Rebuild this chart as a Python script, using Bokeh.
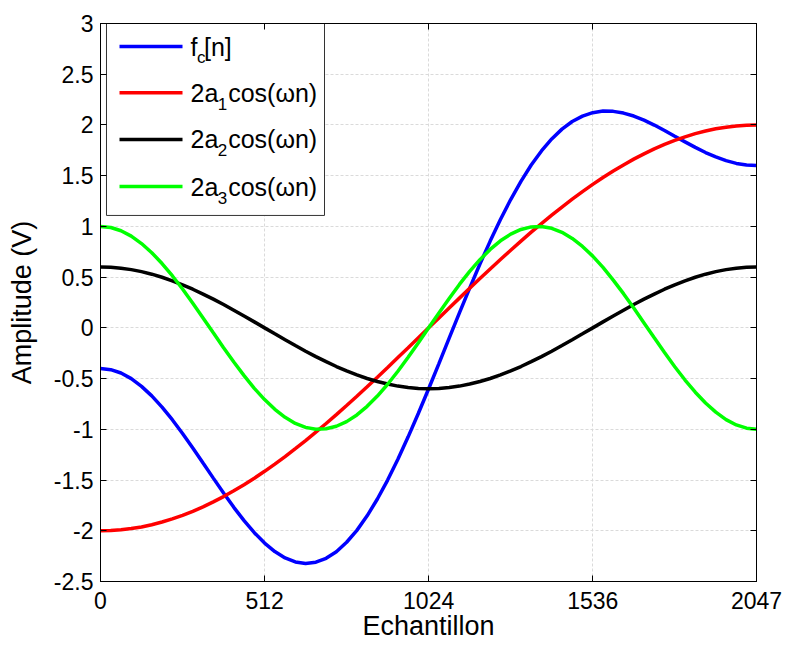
from bokeh.plotting import figure
from bokeh.models import Range1d, FixedTicker, LinearAxis, ColumnDataSource
from bokeh.core.properties import value
from bokeh.embed import file_html
from bokeh.resources import INLINE

# ---------------- data ----------------
n = list(range(0, 2048, 32)) + [2047]

a1_cos = [-2.000, -1.998, -1.990, -1.978, -1.962, -1.940, -1.914, -1.883, -1.848, -1.808,
          -1.764, -1.715, -1.663, -1.606, -1.546, -1.482, -1.414, -1.343, -1.269, -1.191,
          -1.111, -1.028, -0.943, -0.855, -0.765, -0.674, -0.581, -0.486, -0.390, -0.293,
          -0.196, -0.098, 0.000, 0.098, 0.196, 0.293, 0.390, 0.486, 0.581, 0.674,
          0.765, 0.855, 0.943, 1.028, 1.111, 1.191, 1.269, 1.343, 1.414, 1.482,
          1.546, 1.606, 1.663, 1.715, 1.764, 1.808, 1.848, 1.883, 1.914, 1.940,
          1.962, 1.978, 1.990, 1.998, 2.000]

a2_cos = [0.600, 0.597, 0.588, 0.574, 0.554, 0.529, 0.499, 0.464, 0.424, 0.381,
          0.333, 0.283, 0.230, 0.174, 0.117, 0.059, 0.000, -0.059, -0.117, -0.174,
          -0.230, -0.283, -0.333, -0.381, -0.424, -0.464, -0.499, -0.529, -0.554, -0.574,
          -0.588, -0.597, -0.600, -0.597, -0.588, -0.574, -0.554, -0.529, -0.499, -0.464,
          -0.424, -0.381, -0.333, -0.283, -0.230, -0.174, -0.117, -0.059, 0.000, 0.059,
          0.117, 0.174, 0.230, 0.283, 0.333, 0.381, 0.424, 0.464, 0.499, 0.529,
          0.554, 0.574, 0.588, 0.597, 0.600]

a3_cos = [1.000, 0.989, 0.957, 0.904, 0.831, 0.741, 0.634, 0.514, 0.383, 0.243,
          0.098, -0.049, -0.195, -0.337, -0.471, -0.596, -0.707, -0.803, -0.882, -0.942,
          -0.981, -0.999, -0.995, -0.970, -0.924, -0.858, -0.773, -0.672, -0.556, -0.428,
          -0.290, -0.147, 0.000, 0.147, 0.290, 0.428, 0.556, 0.672, 0.773, 0.858,
          0.924, 0.970, 0.995, 0.999, 0.981, 0.942, 0.882, 0.803, 0.707, 0.596,
          0.471, 0.337, 0.195, 0.049, -0.098, -0.243, -0.383, -0.514, -0.634, -0.741,
          -0.831, -0.904, -0.957, -0.989, -1.000]

fc = [-0.400, -0.412, -0.445, -0.500, -0.577, -0.670, -0.781, -0.905, -1.041, -1.184,
      -1.333, -1.481, -1.628, -1.769, -1.900, -2.019, -2.121, -2.205, -2.268, -2.307,
      -2.322, -2.310, -2.271, -2.206, -2.113, -1.996, -1.853, -1.687, -1.500, -1.295,
      -1.074, -0.842, -0.600, -0.352, -0.102, 0.147, 0.392, 0.629, 0.855, 1.068,
      1.265, 1.444, 1.605, 1.744, 1.862, 1.959, 2.034, 2.087, 2.121, 2.137,
      2.134, 2.117, 2.088, 2.047, 1.999, 1.946, 1.889, 1.833, 1.779, 1.728,
      1.685, 1.648, 1.621, 1.606, 1.600]

x_ticks = [0, 512, 1024, 1536, 2047]
x_tick_labels = ["0", "512", "1024", "1536", "2047"]
y_ticks = [-2.5, -2, -1.5, -1, -0.5, 0, 0.5, 1, 1.5, 2, 2.5, 3]
y_tick_labels = ["-2.5", "-2", "-1.5", "-1", "-0.5", "0", "0.5", "1", "1.5", "2", "2.5", "3"]

series_names = [("f", "c", "[n]"), ("2a", "1", "cos(\u03c9n)"), ("2a", "2", "cos(\u03c9n)"), ("2a", "3", "cos(\u03c9n)")]
series_values = [fc, a1_cos, a2_cos, a3_cos]
series_colors = ["#0000FF", "#FF0000", "#000000", "#00FF00"]

x_label = "Echantillon"
y_label = "Amplitude (V)"

# ---------------- figure ----------------
FONT = "Liberation Sans"
p = figure(frame_width=656, frame_height=558, output_backend="svg", toolbar_location=None,
           x_range=Range1d(0, 2047), y_range=Range1d(-2.5, 3),
           min_border_left=100, min_border_top=23, min_border_right=31, min_border_bottom=66,
           background_fill_color="white", border_fill_color="white")
p.outline_line_color = "black"
p.outline_line_width = 1

for ax, ticks, labels in ((p.xaxis[0], x_ticks, x_tick_labels), (p.yaxis[0], y_ticks, y_tick_labels)):
    ax.ticker = FixedTicker(ticks=ticks)
    ax.major_label_overrides = {t: s for t, s in zip(ticks, labels)}
    ax.major_tick_in = 6
    ax.major_tick_out = 0
    ax.minor_tick_line_color = None
    ax.axis_line_color = "black"
    ax.major_tick_line_color = "black"
    ax.major_label_text_font = FONT
    ax.major_label_text_font_size = "23px"
    ax.major_label_text_color = "black"
    ax.axis_label_text_font = FONT
    ax.axis_label_text_font_size = "27px"
    ax.axis_label_text_font_style = "normal"
    ax.axis_label_text_color = "black"

p.xaxis[0].axis_label = x_label
p.xaxis[0].major_label_standoff = 10
p.xaxis[0].axis_label_standoff = -1
p.yaxis[0].axis_label = y_label
p.yaxis[0].major_label_standoff = 7
p.yaxis[0].axis_label_standoff = 14

# box ticks on right and top
for loc, ticks in (("right", y_ticks), ("above", x_ticks)):
    ax = LinearAxis(ticker=FixedTicker(ticks=ticks),
                    major_label_overrides={t: "" for t in ticks},
                    major_tick_in=6, major_tick_out=0, minor_tick_line_color=None,
                    axis_line_color="black", major_tick_line_color="black",
                    major_label_text_font_size="0px", major_label_standoff=0)
    p.add_layout(ax, loc)

p.xgrid.ticker = FixedTicker(ticks=x_ticks)
p.ygrid.ticker = FixedTicker(ticks=y_ticks)
for g in (p.xgrid[0], p.ygrid[0]):
    g.grid_line_color = "#dadada"
    g.grid_line_dash = "3 2"
    g.grid_line_width = 1

for vals, col in zip(series_values, series_colors):
    p.line(n, vals, line_color=col, line_width=3.5)

# ---------------- legend (custom, with subscripts) ----------------
leg_left, leg_right, leg_top, leg_bottom = 18.7, 699.0, 3.03, 1.108
p.quad(left=[leg_left], right=[leg_right], top=[leg_top], bottom=[leg_bottom],
       fill_color="white", line_color="#333333", line_width=1)
entry_y = [2.773, 2.317, 1.857, 1.393]
line_x0, line_x1, text_x = 59.3, 255.9, 280.8
p.segment(x0=[line_x0] * 4, x1=[line_x1] * 4, y0=entry_y, y1=entry_y,
          line_color=series_colors, line_width=3.5)

main_x, main_y, main_t, main_off = [], [], [], []
sub_x, sub_y, sub_t, sub_off = [], [], [], []
for (pre, sub, post), yy in zip(series_names, entry_y):
    pre_w = 6.5 if pre == "f" else 27.3
    sub_w = 7.0 if sub == "c" else 10.4
    main_x += [text_x, text_x]
    main_y += [yy, yy]
    main_t += [pre, post]
    main_off += [0, pre_w + sub_w]
    sub_x.append(text_x)
    sub_y.append(yy)
    sub_t.append(sub)
    sub_off.append(pre_w)

p.text(x="x", y="y", text="t", x_offset="o",
       source=ColumnDataSource(dict(x=main_x, y=main_y, t=main_t, o=main_off)),
       text_font=value(FONT), text_font_size="25px", text_baseline="middle",
       text_align="left", text_color="black")
p.text(x="x", y="y", text="t", x_offset="o", y_offset=11,
       source=ColumnDataSource(dict(x=sub_x, y=sub_y, t=sub_t, o=sub_off)),
       text_font=value(FONT), text_font_size="17px", text_baseline="middle",
       text_align="left", text_color="black")

open("out.html", "w").write(file_html(p, INLINE))
